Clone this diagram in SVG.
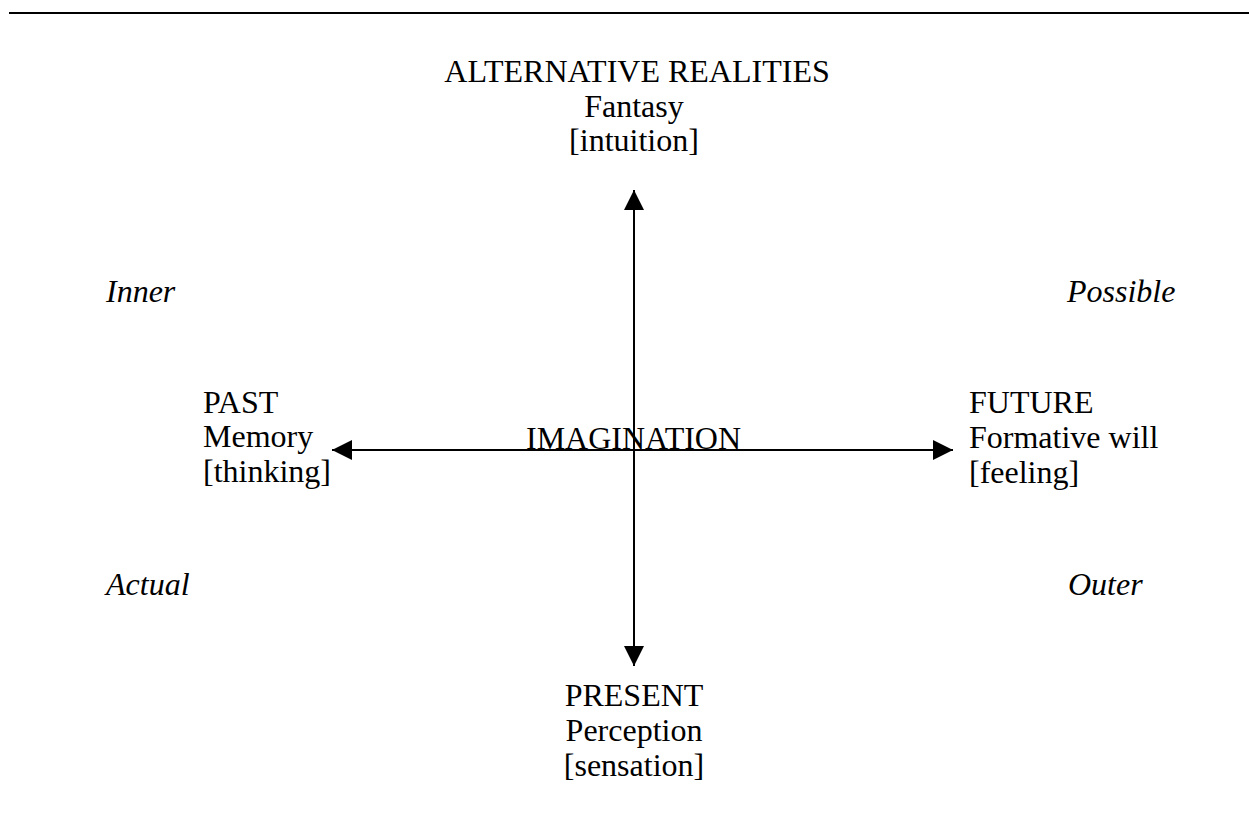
<svg xmlns="http://www.w3.org/2000/svg" width="1249" height="815" viewBox="0 0 1249 815">
  <defs>
    <marker id="arrow" viewBox="0 0 20 20" refX="20" refY="10" markerWidth="20" markerHeight="20" markerUnits="userSpaceOnUse" orient="auto-start-reverse">
      <path d="M0,0 L20,10 L0,20 z" fill="#000"/>
    </marker>
    <style>
      .t { font-family: "Liberation Serif", "Times New Roman", serif; font-size: 32px; fill: #000; }
      .i { font-style: italic; }
      .c { text-anchor: middle; }
      .ax { stroke: #000; stroke-width: 2; fill: none; }
    </style>
  </defs>
  <rect width="1249" height="815" fill="#fff"/>
  <line x1="9" y1="13" x2="1249" y2="13" stroke="#000" stroke-width="2"/>

  <g id="connectors">
    <line class="ax" x1="634" y1="190" x2="634" y2="666" marker-start="url(#arrow)" marker-end="url(#arrow)"/>
    <line class="ax" x1="332" y1="450" x2="953" y2="450" marker-start="url(#arrow)" marker-end="url(#arrow)"/>
  </g>

  <g id="alternative-realities">
    <text class="t c" x="637" y="82">ALTERNATIVE REALITIES</text>
    <text class="t c" x="634" y="116.5">Fantasy</text>
    <text class="t c" x="634" y="151">[intuition]</text>
  </g>

  <g id="past">
    <text class="t" x="203" y="413">PAST</text>
    <text class="t" x="203" y="447">Memory</text>
    <text class="t" x="203" y="481.5">[thinking]</text>
  </g>

  <g id="future">
    <text class="t" x="969" y="413">FUTURE</text>
    <text class="t" x="969" y="448">Formative will</text>
    <text class="t" x="969" y="483">[feeling]</text>
  </g>

  <g id="present">
    <text class="t c" x="634" y="706">PRESENT</text>
    <text class="t c" x="634" y="741">Perception</text>
    <text class="t c" x="634" y="776">[sensation]</text>
  </g>

  <g id="imagination">
    <text class="t" x="526" y="448.5">IMAGINATION</text>
  </g>

  <g id="inner"><text class="t i" x="106" y="302">Inner</text></g>
  <g id="possible"><text class="t i" x="1067" y="302">Possible</text></g>
  <g id="actual"><text class="t i" x="106" y="595">Actual</text></g>
  <g id="outer"><text class="t i" x="1068" y="595">Outer</text></g>
</svg>
